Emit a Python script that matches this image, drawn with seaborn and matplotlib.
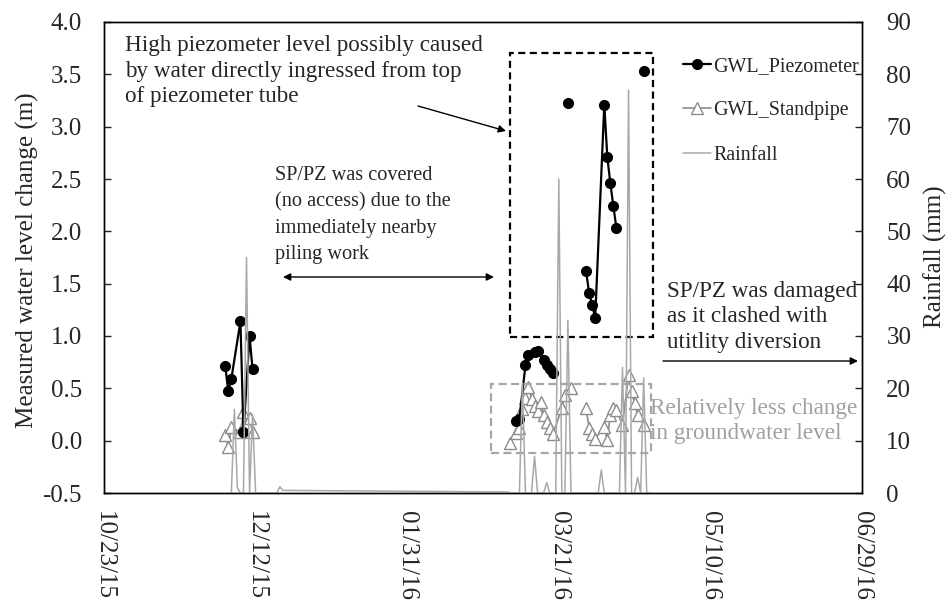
import numpy as np
import pandas as pd
import matplotlib
matplotlib.use("Agg")
import matplotlib.pyplot as plt
from matplotlib.lines import Line2D
from matplotlib.patches import Rectangle
from matplotlib.ticker import FormatStrFormatter
import seaborn as sns

# ---------------- data ----------------
piezo_dates = ["2015-12-02", "2015-12-03", "2015-12-04", "2015-12-07", "2015-12-08", "2015-12-10", "2015-12-11",
               "2016-03-07", "2016-03-08", "2016-03-10", "2016-03-11", "2016-03-13", "2016-03-14", "2016-03-16",
               "2016-03-17", "2016-03-18", "2016-03-19",
               "2016-03-24",
               "2016-03-30", "2016-03-31", "2016-04-01", "2016-04-02", "2016-04-05", "2016-04-06", "2016-04-07",
               "2016-04-08", "2016-04-09",
               "2016-04-18"]
piezo_values = [0.71, 0.47, 0.59, 1.14, 0.08, 1.00, 0.68,
                0.19, 0.21, 0.72, 0.82, 0.85, 0.86, 0.77, 0.72, 0.68, 0.65,
                3.23,
                1.62, 1.41, 1.30, 1.17, 3.21, 2.71, 2.46, 2.24, 2.03,
                3.53]
piezo_segment = [1] * 7 + [2] * 10 + [3] + [4] * 9 + [5]

stand_dates = ["2015-12-02", "2015-12-03", "2015-12-04", "2015-12-07", "2015-12-08", "2015-12-10", "2015-12-11",
               "2016-03-05", "2016-03-07", "2016-03-08", "2016-03-09", "2016-03-10", "2016-03-11", "2016-03-12",
               "2016-03-13", "2016-03-14", "2016-03-15", "2016-03-16", "2016-03-17", "2016-03-18", "2016-03-19",
               "2016-03-22", "2016-03-23", "2016-03-25",
               "2016-03-30", "2016-03-31", "2016-04-01", "2016-04-02", "2016-04-05", "2016-04-06", "2016-04-07",
               "2016-04-08", "2016-04-09", "2016-04-11", "2016-04-13", "2016-04-14", "2016-04-15", "2016-04-16",
               "2016-04-18"]
stand_values = [0.05, -0.06, 0.13, 0.08, 0.27, 0.22, 0.08,
                -0.02, 0.07, 0.12, 0.30, 0.41, 0.51, 0.40, 0.33, 0.28, 0.37, 0.25, 0.18, 0.12, 0.06,
                0.31, 0.44, 0.50,
                0.31, 0.12, 0.06, 0.02, 0.13, 0.01, 0.25, 0.31, 0.29, 0.15, 0.63, 0.47, 0.36, 0.25, 0.15]
stand_segment = [1] * 7 + [2] * 17 + [3] * 15

rain_dates = ["2015-12-04", "2015-12-05", "2015-12-06", "2015-12-07", "2015-12-08", "2015-12-09", "2015-12-10",
              "2015-12-11", "2015-12-12", "2015-12-19", "2015-12-20", "2015-12-21",
              "2016-03-04", "2016-03-05", "2016-03-06", "2016-03-07", "2016-03-08", "2016-03-09", "2016-03-10",
              "2016-03-11", "2016-03-12", "2016-03-13", "2016-03-14", "2016-03-15", "2016-03-16", "2016-03-17",
              "2016-03-18", "2016-03-19", "2016-03-20", "2016-03-21", "2016-03-22", "2016-03-23", "2016-03-24",
              "2016-03-25", "2016-04-03", "2016-04-04", "2016-04-05", "2016-04-10", "2016-04-11", "2016-04-12",
              "2016-04-13", "2016-04-14", "2016-04-15", "2016-04-16", "2016-04-17", "2016-04-18", "2016-04-19",
              "2016-04-20"]
rain_values = [0, 16, 1, 0, 0, 45, 0,
               15, 0, 0, 1.2, 0.5,
               0.2, 0, 0, 0, 0, 21, 0,
               0, 0, 7, 0, 0, 0, 2,
               0, 0, 0, 60, 0, 0, 33,
               0, 0, 4.4, 0, 0, 24, 0,
               77, 0, 0, 3, 0, 22, 0,
               0]

x_tick_labels = ["10/23/15", "12/12/15", "01/31/16", "03/21/16", "05/10/16", "06/29/16"]
legend_labels = ["GWL_Piezometer", "GWL_Standpipe", "Rainfall"]

# ---------------- style ----------------
sns.set_style("white")
plt.rcParams["font.family"] = ["Liberation Serif", "DejaVu Serif"]
plt.rcParams["axes.unicode_minus"] = False

W, H = 946, 600
L, R, T, B = 104, 862, 22, 493
fig = plt.figure(figsize=(W / 100, H / 100), dpi=100)
ax = fig.add_axes([L / W, 1 - B / H, (R - L) / W, (B - T) / H])
ax2 = ax.twinx()


def fx(px):
    return (px - L) / (R - L)


def fy(py):
    return (B - py) / (B - T)


piezo = pd.DataFrame({"date": pd.to_datetime(piezo_dates), "level": piezo_values, "seg": piezo_segment})
stand = pd.DataFrame({"date": pd.to_datetime(stand_dates), "level": stand_values, "seg": stand_segment})
rain = pd.DataFrame({"date": pd.to_datetime(rain_dates), "mm": rain_values})

c_stand = "#8c8c8c"
c_rain = "#a8a8a8"

sns.lineplot(data=stand, x="date", y="level", units="seg", estimator=None, ax=ax,
             color=c_stand, lw=1.2, marker="^", markersize=8, markerfacecolor="white",
             markeredgecolor=c_stand, markeredgewidth=1.0, legend=False)
sns.lineplot(data=piezo, x="date", y="level", units="seg", estimator=None, ax=ax,
             color="black", lw=1.6, marker="o", markersize=7, markerfacecolor="black",
             markeredgecolor="black", markeredgewidth=1.0, legend=False)
sns.lineplot(data=rain, x="date", y="mm", estimator=None, ax=ax2, color=c_rain, lw=1.1, legend=False)

# ---------------- axes ----------------
ax.set_ylim(-0.5, 4.0)
ax.set_yticks(np.arange(-0.5, 4.01, 0.5))
ax.yaxis.set_major_formatter(FormatStrFormatter("%.1f"))
ax2.set_ylim(0, 90)
ax2.set_yticks(np.arange(0, 91, 10))

start, end = pd.Timestamp("2015-10-23"), pd.Timestamp("2016-06-29")
ax.set_xlim(start, end)
major = pd.date_range(start, end, freq="50D")
minor = pd.date_range(start, end, freq="10D")
ax.set_xticks(major)
ax.set_xticks(minor, minor=True)
ax.set_xticklabels(x_tick_labels, rotation=-90, va="top", ha="center")

ax.set_xlabel("")
ax.set_ylabel("")
ax2.set_ylabel("")
ax2.set_xlabel("")

ax.tick_params(axis="x", which="major", direction="in", length=5.5, width=1, labelsize=18, pad=13)
ax.tick_params(axis="x", which="minor", direction="in", length=4, width=1)
ax.tick_params(axis="y", which="major", direction="in", length=5, width=1, labelsize=18, pad=16)
ax2.tick_params(axis="y", which="major", direction="in", length=5, width=1, labelsize=18, pad=17.5)
for a in (ax, ax2):
    for s in a.spines.values():
        s.set_color("black")
        s.set_linewidth(1.0)
        s.set_visible(True)

fig.text(27 / W, 1 - 260 / H, "Measured water level change (m)", rotation=90,
         ha="center", va="center", fontsize=18)
fig.text(935 / W, 1 - 257 / H, "Rainfall (mm)", rotation=90,
         ha="center", va="center", fontsize=18)

# ---------------- annotations ----------------
fs_big = 16.7
fs_small = 14.6
ax2.add_patch(Rectangle((fx(510), fy(337)), fx(653) - fx(510), fy(53) - fy(337), transform=ax2.transAxes,
                        fill=False, edgecolor="black", lw=1.6, linestyle=(0, (3.2, 2.0)), clip_on=False))
ax2.add_patch(Rectangle((fx(491), fy(453)), fx(651) - fx(491), fy(384) - fy(453), transform=ax2.transAxes,
                        fill=False, edgecolor="#a6a6a6", lw=1.6, linestyle=(0, (3.6, 2.0)), clip_on=False))

ax2.text(fx(125), fy(71), "High piezometer level possibly caused\nby water directly ingressed from top\nof piezometer tube",
         transform=ax2.transAxes, ha="left", va="center", fontsize=fs_big, linespacing=1.27)
ax2.text(fx(275), fy(215), "SP/PZ was covered\n(no access) due to the\nimmediately nearby\npiling work",
         transform=ax2.transAxes, ha="left", va="center", fontsize=fs_small, linespacing=1.5)
ax2.text(fx(667), fy(317), "SP/PZ was damaged\nas it clashed with\nutitlity diversion",
         transform=ax2.transAxes, ha="left", va="center", fontsize=fs_big, linespacing=1.27)
ax2.text(fx(650), fy(421), "Relatively less change\nin groundwater level",
         transform=ax2.transAxes, ha="left", va="center", fontsize=fs_big, linespacing=1.22, color="#a0a0a0")

arrow_kw = dict(color="black", lw=1.0, shrinkA=0, shrinkB=0, mutation_scale=11)
ax2.annotate("", xy=(fx(506), fy(131)), xytext=(fx(418), fy(106)), xycoords="axes fraction",
             textcoords="axes fraction", arrowprops=dict(arrowstyle="-|>", **arrow_kw))
ax2.annotate("", xy=(fx(494), fy(277)), xytext=(fx(283), fy(277)), xycoords="axes fraction",
             textcoords="axes fraction", arrowprops=dict(arrowstyle="<|-|>", **arrow_kw))
ax2.annotate("", xy=(fx(858), fy(361)), xytext=(fx(663), fy(361)), xycoords="axes fraction",
             textcoords="axes fraction", arrowprops=dict(arrowstyle="-|>", **arrow_kw))

# ---------------- legend ----------------
handles = [
    Line2D([], [], color="black", lw=1.6, marker="o", markersize=7),
    Line2D([], [], color=c_stand, lw=1.2, marker="^", markersize=8, markerfacecolor="white",
           markeredgecolor=c_stand),
    Line2D([], [], color=c_rain, lw=1.1),
]
ax2.legend(handles, legend_labels, loc="upper left", bbox_to_anchor=(fx(683), fy(57)),
           frameon=False, fontsize=14.4, handlelength=1.4, handletextpad=0.12,
           labelspacing=1.27, borderpad=0, borderaxespad=0)

fig.savefig("out.png", dpi=100)
